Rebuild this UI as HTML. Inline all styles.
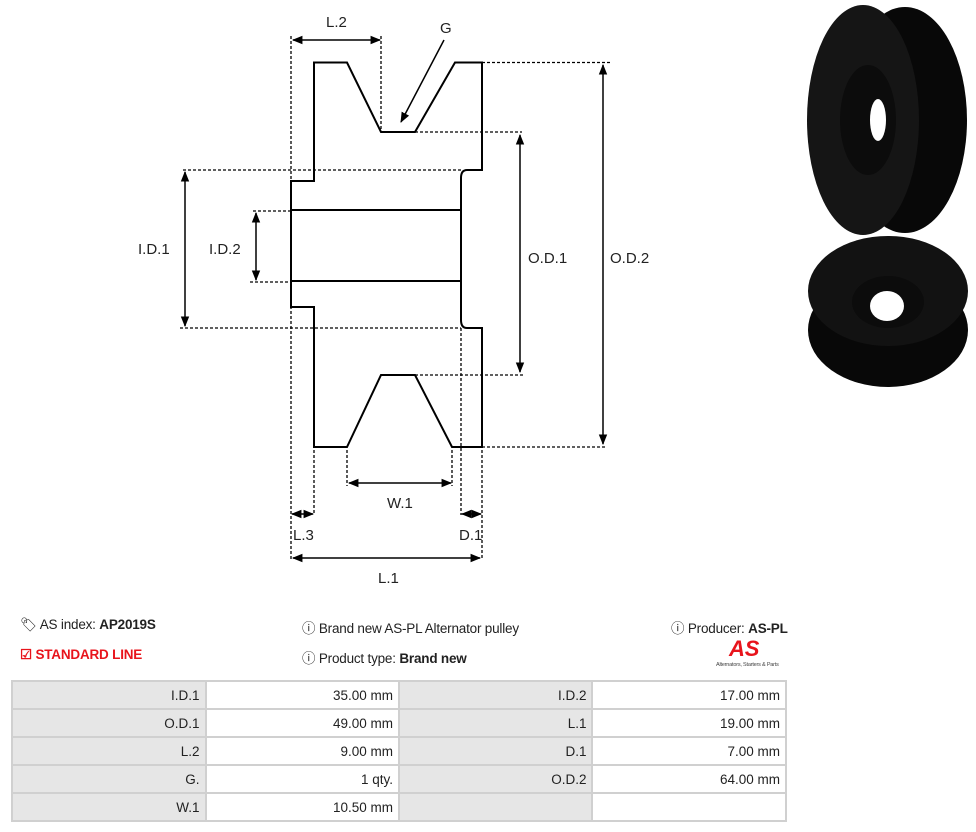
<!DOCTYPE html>
<html><head><meta charset="utf-8"><style>
body{margin:0;width:976px;height:832px;background:#fff;font-family:"Liberation Sans",sans-serif;position:relative;overflow:hidden}
.t{position:absolute;font-size:13.5px;color:#222;white-space:nowrap;letter-spacing:-0.2px}
table{position:absolute;left:11px;top:680px;border-collapse:collapse;width:776px}
td{border:2px solid #d0d0d0;height:26px;padding:0 5px;text-align:right;font-size:13.5px;color:#222;width:182px}
td.g{background:#e6e6e6}
</style></head><body>
<svg width="976" height="600" style="position:absolute;left:0;top:0" font-family="Liberation Sans" font-size="15" fill="#222">
<defs><marker id="a" viewBox="0 0 10 10" refX="9" refY="5" markerWidth="7" markerHeight="7" orient="auto-start-reverse"><path d="M0,1L10,5L0,9z" fill="#000"/></marker></defs>
<g fill="none" stroke="#000" stroke-width="2">
<path d="M314,181V62.5H347L381,132H415L455,62.5H482V170H467Q461,170 461,178V320Q461,328 467,328H482V447H452L415,375H381L347,447H314V307H291V181Z"/>
<path d="M291,210H461M291,281H461"/>
</g>
<g fill="none" stroke="#000" stroke-width="1.3" stroke-dasharray="3,2">
<path d="M291,36V560M381,36V132M314,450V515M482,450V560M461,328V515M347,450V486M452,450V486"/>
<path d="M183,170H461M180,328H461M253,211H291M250,282H291M415,132H522M415,375H525M482,62.5H610M482,447H607"/>
</g>
<g stroke="#000" stroke-width="1.5" marker-start="url(#a)" marker-end="url(#a)">
<line x1="293" y1="40" x2="380" y2="40"/>
<line x1="185" y1="172" x2="185" y2="326"/>
<line x1="256" y1="213" x2="256" y2="280"/>
<line x1="520" y1="135" x2="520" y2="372"/>
<line x1="603" y1="65" x2="603" y2="444"/>
<line x1="349" y1="483" x2="451" y2="483"/>
<line x1="292" y1="514" x2="313" y2="514"/>
<line x1="462" y1="514" x2="481" y2="514"/>
<line x1="293" y1="558" x2="480" y2="558"/>
</g>
<line x1="444" y1="40" x2="401" y2="122" stroke="#000" stroke-width="1.5" marker-end="url(#a)"/>
<text x="326" y="27">L.2</text><text x="440" y="33">G</text>
<text x="138" y="254">I.D.1</text><text x="209" y="254">I.D.2</text>
<text x="528" y="263">O.D.1</text><text x="610" y="263">O.D.2</text>
<text x="387" y="508">W.1</text><text x="293" y="540">L.3</text><text x="459" y="540">D.1</text>
<text x="378" y="583">L.1</text>
<ellipse cx="905" cy="120" rx="62" ry="113" fill="#080808"/>
<ellipse cx="863" cy="120" rx="56" ry="115" fill="#151515"/>
<ellipse cx="868" cy="120" rx="28" ry="55" fill="#0c0c0c"/>
<ellipse cx="878" cy="120" rx="8" ry="21" fill="#fff"/>
<ellipse cx="888" cy="330" rx="80" ry="57" fill="#080808"/>
<ellipse cx="888" cy="291" rx="80" ry="55" fill="#121212"/>
<ellipse cx="888" cy="302" rx="36" ry="26" fill="#0c0c0c"/>
<ellipse cx="887" cy="306" rx="17" ry="15" fill="#fff"/>
</svg>
<div class="t" style="left:20px;top:617px">&#x1F3F7;&#xFE0E; AS index: <b>AP2019S</b></div>
<div class="t" style="left:20px;top:647px;color:#e8141c;font-weight:bold">&#9745; STANDARD LINE</div>
<div class="t" style="left:302px;top:617px">&#x24D8; Brand new AS-PL Alternator pulley</div>
<div class="t" style="left:302px;top:647px">&#x24D8; Product type: <b>Brand new</b></div>
<div class="t" style="left:671px;top:617px">&#x24D8; Producer: <b>AS-PL</b></div>
<div class="t" style="left:729px;top:636px;color:#e8141c;font-weight:bold;font-style:italic;font-size:22px">AS</div>
<div class="t" style="left:716px;top:662px;font-size:5.5px;color:#444">Alternators, Starters &amp; Parts</div>
<table>
<tr><td class="g">I.D.1</td><td>35.00 mm</td><td class="g">I.D.2</td><td>17.00 mm</td></tr>
<tr><td class="g">O.D.1</td><td>49.00 mm</td><td class="g">L.1</td><td>19.00 mm</td></tr>
<tr><td class="g">L.2</td><td>9.00 mm</td><td class="g">D.1</td><td>7.00 mm</td></tr>
<tr><td class="g">G.</td><td>1 qty.</td><td class="g">O.D.2</td><td>64.00 mm</td></tr>
<tr><td class="g">W.1</td><td>10.50 mm</td><td class="g"></td><td></td></tr>
</table>
</body></html>
